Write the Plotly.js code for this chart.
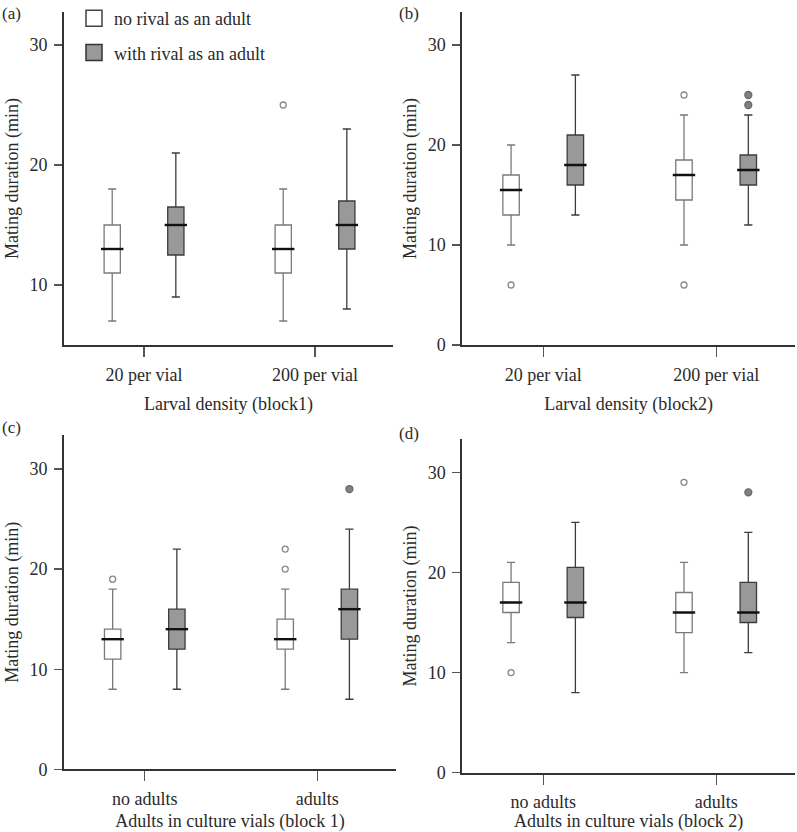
<!DOCTYPE html>
<html>
<head>
<meta charset="utf-8">
<script src="https://cdn.plot.ly/plotly-3.0.1.min.js"></script>
<style>html,body{margin:0;padding:0;background:#fff;}#chart{width:797px;height:832px;}</style>
</head>
<body>
<div id="chart"></div>
<script>
// ---------- data ----------
const catsAB = ['20 per vial', '200 per vial'];
const catsCD = ['no adults', 'adults'];
const seriesNames = ['no rival as an adult', 'with rival as an adult'];

// Panel (a) Larval density (block1)
const a_none_low = [7, 7], a_none_q1 = [11, 11], a_none_med = [13, 13], a_none_q3 = [15, 15], a_none_high = [18, 18];
const a_none_outX = [1], a_none_outY = [25];
const a_riv_low = [9, 8], a_riv_q1 = [12.5, 13], a_riv_med = [15, 15], a_riv_q3 = [16.5, 17], a_riv_high = [21, 23];
const a_riv_outX = [], a_riv_outY = [];

// Panel (b) Larval density (block2)
const b_none_low = [10, 10], b_none_q1 = [13, 14.5], b_none_med = [15.5, 17], b_none_q3 = [17, 18.5], b_none_high = [20, 23];
const b_none_outX = [0, 1, 1], b_none_outY = [6, 6, 25];
const b_riv_low = [13, 12], b_riv_q1 = [16, 16], b_riv_med = [18, 17.5], b_riv_q3 = [21, 19], b_riv_high = [27, 23];
const b_riv_outX = [1, 1], b_riv_outY = [25, 24];

// Panel (c) Adults in culture vials (block 1)
const c_none_low = [8, 8], c_none_q1 = [11, 12], c_none_med = [13, 13], c_none_q3 = [14, 15], c_none_high = [18, 18];
const c_none_outX = [0, 1, 1], c_none_outY = [19, 22, 20];
const c_riv_low = [8, 7], c_riv_q1 = [12, 13], c_riv_med = [14, 16], c_riv_q3 = [16, 18], c_riv_high = [22, 24];
const c_riv_outX = [1], c_riv_outY = [28];

// Panel (d) Adults in culture vials (block 2)
const d_none_low = [13, 10], d_none_q1 = [16, 14], d_none_med = [17, 16], d_none_q3 = [19, 18], d_none_high = [21, 21];
const d_none_outX = [0, 1], d_none_outY = [10, 29];
const d_riv_low = [8, 12], d_riv_q1 = [15.5, 15], d_riv_med = [17, 16], d_riv_q3 = [20.5, 19], d_riv_high = [25, 24];
const d_riv_outX = [1], d_riv_outY = [28];

// ---------- styling ----------
const FONT = "'Liberation Serif', 'Times New Roman', serif";
const TXT = '#2a2a2a';
const OFF = [-0.186, 0.186];          // within-group offset of the two series
const BOXW = 0.095;
const style = [
  {fill: '#ffffff', line: '#7a7a7a', ptFill: '#ffffff', ptLine: '#888888', ptSize: 6},
  {fill: '#999999', line: '#3c3c3c', ptFill: '#808080', ptLine: '#6a6a6a', ptSize: 7}
];

const panels = [
  {ax: '', cats: catsAB, s: [
    {low: a_none_low, q1: a_none_q1, med: a_none_med, q3: a_none_q3, high: a_none_high, ox: a_none_outX, oy: a_none_outY},
    {low: a_riv_low, q1: a_riv_q1, med: a_riv_med, q3: a_riv_q3, high: a_riv_high, ox: a_riv_outX, oy: a_riv_outY}]},
  {ax: '2', cats: catsAB, s: [
    {low: b_none_low, q1: b_none_q1, med: b_none_med, q3: b_none_q3, high: b_none_high, ox: b_none_outX, oy: b_none_outY},
    {low: b_riv_low, q1: b_riv_q1, med: b_riv_med, q3: b_riv_q3, high: b_riv_high, ox: b_riv_outX, oy: b_riv_outY}]},
  {ax: '3', cats: catsCD, s: [
    {low: c_none_low, q1: c_none_q1, med: c_none_med, q3: c_none_q3, high: c_none_high, ox: c_none_outX, oy: c_none_outY},
    {low: c_riv_low, q1: c_riv_q1, med: c_riv_med, q3: c_riv_q3, high: c_riv_high, ox: c_riv_outX, oy: c_riv_outY}]},
  {ax: '4', cats: catsCD, s: [
    {low: d_none_low, q1: d_none_q1, med: d_none_med, q3: d_none_q3, high: d_none_high, ox: d_none_outX, oy: d_none_outY},
    {low: d_riv_low, q1: d_riv_q1, med: d_riv_med, q3: d_riv_q3, high: d_riv_high, ox: d_riv_outX, oy: d_riv_outY}]}
];

const traces = [];
panels.forEach(p => {
  p.s.forEach((s, k) => {
    const st = style[k];
    const pos = p.cats.map((c, i) => i + OFF[k]);
    traces.push({
      type: 'box', orientation: 'v', xaxis: 'x' + p.ax, yaxis: 'y' + p.ax,
      x: pos, q1: s.q1, median: s.med, q3: s.q3, lowerfence: s.low, upperfence: s.high,
      width: BOXW, whiskerwidth: 0.5, boxpoints: false,
      fillcolor: st.fill, line: {color: st.line, width: 1.3},
      showlegend: false, hoverinfo: 'skip'
    });
    traces.push({
      type: 'scatter', mode: 'markers', xaxis: 'x' + p.ax, yaxis: 'y' + p.ax,
      x: pos, y: s.med, showlegend: false, hoverinfo: 'skip',
      marker: {symbol: 'line-ew', size: 16, line: {color: '#111111', width: 2.4}}
    });
    traces.push({
      type: 'scatter', mode: 'markers', xaxis: 'x' + p.ax, yaxis: 'y' + p.ax,
      x: s.ox.map(i => i + OFF[k]), y: s.oy, showlegend: false, hoverinfo: 'skip',
      marker: {symbol: 'circle', size: st.ptSize, color: st.ptFill, line: {color: st.ptLine, width: 1.3}}
    });
  });
});
// legend entries
seriesNames.forEach((nm, k) => {
  traces.push({
    type: 'scatter', mode: 'markers', x: [null], y: [null], name: nm,
    legendgroup: 'g' + k, hoverinfo: 'skip',
    marker: {symbol: 'square', size: 20, color: style[k].fill, line: {color: k ? '#333333' : '#444444', width: 1.5}}
  });
});

function xax(domain, cats, title, anchor, standoff) {
  return {
    domain: domain, anchor: anchor, range: [-0.468, 1.456], fixedrange: true,
    tickmode: 'array', tickvals: cats.map((c, i) => i), ticktext: cats,
    showline: true, linecolor: '#333333', linewidth: 2, zeroline: false, showgrid: false,
    ticks: 'outside', ticklen: 10, tickwidth: 1.3, tickcolor: '#555555', ticklabelstandoff: 2,
    tickfont: {family: FONT, size: 18, color: TXT},
    title: {text: title, font: {family: FONT, size: 18, color: TXT}, standoff: standoff}
  };
}
function yax(domain, range, tv, anchor) {
  return {
    domain: domain, anchor: anchor, range: range, fixedrange: true,
    tickmode: 'array', tickvals: tv,
    showline: true, linecolor: '#333333', linewidth: 2, zeroline: false, showgrid: false,
    ticks: 'outside', ticklen: 8, tickwidth: 1.3, tickcolor: '#555555', ticklabelstandoff: 3,
    tickfont: {family: FONT, size: 18, color: TXT},
    title: {text: 'Mating duration (min)', font: {family: FONT, size: 18, color: TXT}, standoff: 6}
  };
}

const W = 797, H = 832;
const colL = [64 / W, 393 / W], colR = [462.3 / W, 795 / W];
const layout = {
  width: W, height: H, margin: {l: 0, r: 0, t: 0, b: 0},
  paper_bgcolor: '#ffffff', plot_bgcolor: '#ffffff',
  font: {family: FONT, size: 18, color: TXT},
  showlegend: true,
  legend: {x: 74 / W, y: 1, xanchor: 'left', yanchor: 'top', bgcolor: 'rgba(0,0,0,0)',
           font: {family: FONT, size: 18, color: TXT}, tracegroupgap: 8, itemclick: false},
  xaxis: xax(colL, catsAB, 'Larval density (block1)', 'y', 14),
  yaxis: yax([1 - 345 / H, 1 - 12 / H], [5, 32.75], [10, 20, 30], 'x'),
  xaxis2: xax(colR, catsAB, 'Larval density (block2)', 'y2', 14),
  yaxis2: yax([1 - 345 / H, 1 - 12 / H], [0, 33.3], [0, 10, 20, 30], 'x2'),
  xaxis3: xax([64 / W, 396 / W], catsCD, 'Adults in culture vials (block 1)', 'y3', 10),
  yaxis3: yax([1 - 769.3 / H, 1 - 435 / H], [0, 33.4], [0, 10, 20, 30], 'x3'),
  xaxis4: xax(colR, catsCD, 'Adults in culture vials (block 2)', 'y4', 10),
  yaxis4: yax([1 - 772.7 / H, 1 - 439.3 / H], [0, 33.3], [0, 10, 20, 30], 'x4'),
  annotations: [
    {text: '(a)', x: 0, y: 1 - 13 / H},
    {text: '(b)', x: 397 / W, y: 1 - 13 / H},
    {text: '(c)', x: 0, y: 1 - 427 / H},
    {text: '(d)', x: 397 / W, y: 1 - 433 / H}
  ].map(a => Object.assign(a, {xref: 'paper', yref: 'paper', xanchor: 'left', yanchor: 'middle',
    showarrow: false, font: {family: FONT, size: 17, color: TXT}}))
};

Plotly.newPlot('chart', traces, layout, {displayModeBar: false, staticPlot: true});
</script>
</body>
</html>
